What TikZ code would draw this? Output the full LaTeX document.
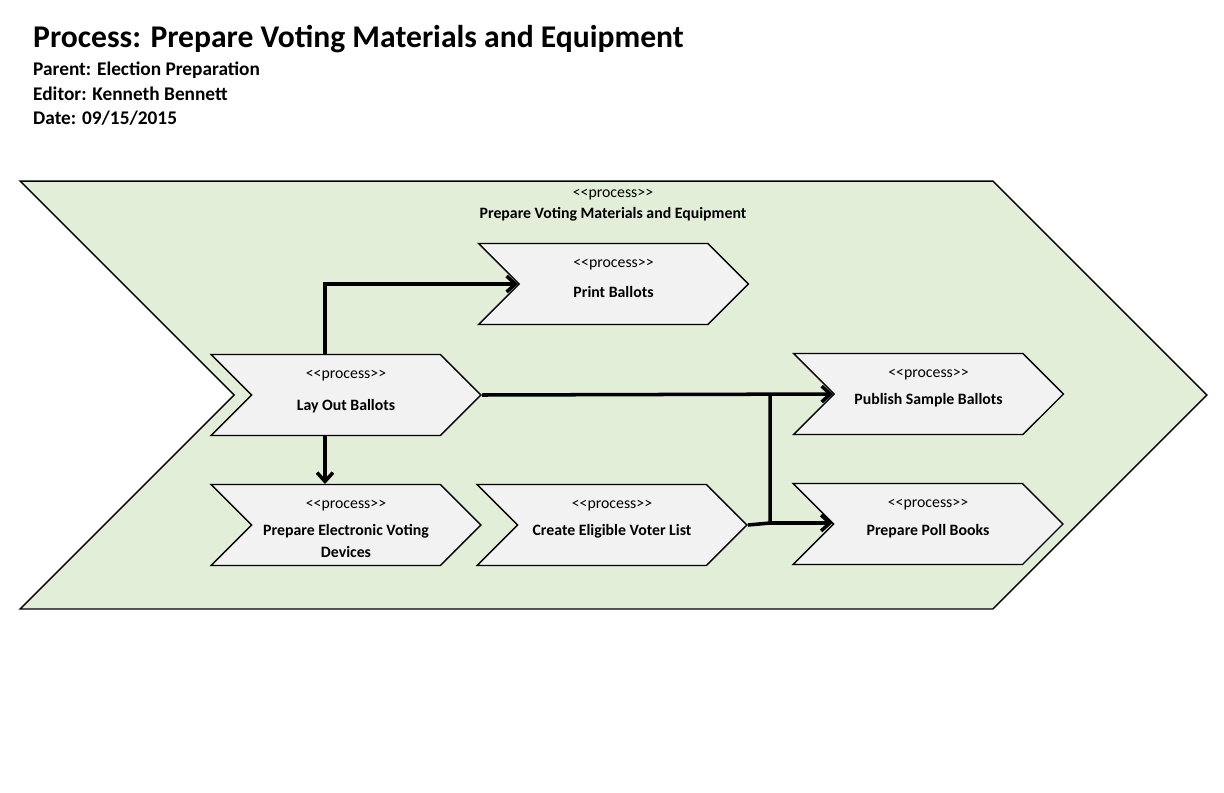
\documentclass[tikz,border=0pt]{standalone}
\usepackage{fontspec}
\setmainfont{Carlito}
\usetikzlibrary{shapes.symbols,arrows.meta,positioning}
\newcommand\stereo{\textless\kern0pt\textless process\textgreater\kern0pt\textgreater}
\tikzset{
  proc/.style={signal, signal from=west, signal to=east, draw, thick,
    fill=procgray, minimum width=5.4cm, minimum height=1.62cm, inner sep=0pt},
  stereo/.style={font=\fontsize{9}{10}\selectfont, inner sep=0pt},
  pname/.style={font=\fontsize{9}{12.5}\selectfont\bfseries, inner sep=0pt, align=center},
  flow/.style={line width=2pt, -{Straight Barb[length=5pt,width=9pt]}},
}
\definecolor{procgray}{RGB}{242,242,242}
\definecolor{backgreen}{RGB}{226,238,216}
\begin{document}
\begin{tikzpicture}[x=0.02cm,y=-0.02cm]
\useasboundingbox (0,0) rectangle (1224,792);
% header
\node[anchor=west,font=\fontsize{18}{20}\selectfont\bfseries] (title) at (27,39) {Process: Prepare Voting Materials and Equipment};
\node[anchor=west,font=\fontsize{11}{13}\selectfont\bfseries] (parent) at (27,70) {Parent: Election Preparation};
\node[anchor=west,font=\fontsize{11}{13}\selectfont\bfseries] (editor) at (27,94) {Editor: Kenneth Bennett};
\node[anchor=west,font=\fontsize{11}{13}\selectfont\bfseries] (date) at (27,118) {Date: 09/15/2015};
% outer process
\node[signal, signal from=west, signal to=east, draw, thick, fill=backgreen,
  minimum width=23.74cm, minimum height=8.56cm, inner sep=0pt] (main) at (613.5,395) {};
\node[stereo] (mains) at (613,195) {\stereo};
\node[pname] (mainn) at (613,214) {Prepare Voting Materials and Equipment};
% sub processes
\node[proc] (print) at (613.5,284) {};
\node[proc] (layout) at (346,395) {};
\node[proc] (sample) at (928.5,394) {};
\node[proc] (evd) at (346,525) {};
\node[proc] (voter) at (612,525) {};
\node[proc] (poll) at (928,524) {};
\foreach \n in {print,layout,sample,evd,voter,poll}
  \node[stereo, below=9pt of \n.north] (\n s) {\stereo};
\node[pname] (printn) at (613.5,292) {Print Ballots};
\node[pname] (layoutn) at (346,406) {Lay Out Ballots};
\node[pname] (samplen) at (928.5,400) {Publish Sample Ballots};
\node[pname] (evdn) at (346,541) {Prepare Electronic Voting\\Devices};
\node[pname] (votern) at (612,531) {Create Eligible Voter List};
\node[pname] (polln) at (928,531) {Prepare Poll Books};
% flows
\draw[flow] (325,354) |- (print.west);
\draw[flow] (layout.east) -- (sample.west);
\draw[flow] (325,435) -- (325,484);
\coordinate (split) at (770,523);
\coordinate (join) at (770,394);
\draw[line width=2pt] (voter.east) -- (split) -- (join);
\draw[flow] (split) -- (split -| poll.west);
\end{tikzpicture}
\end{document}
